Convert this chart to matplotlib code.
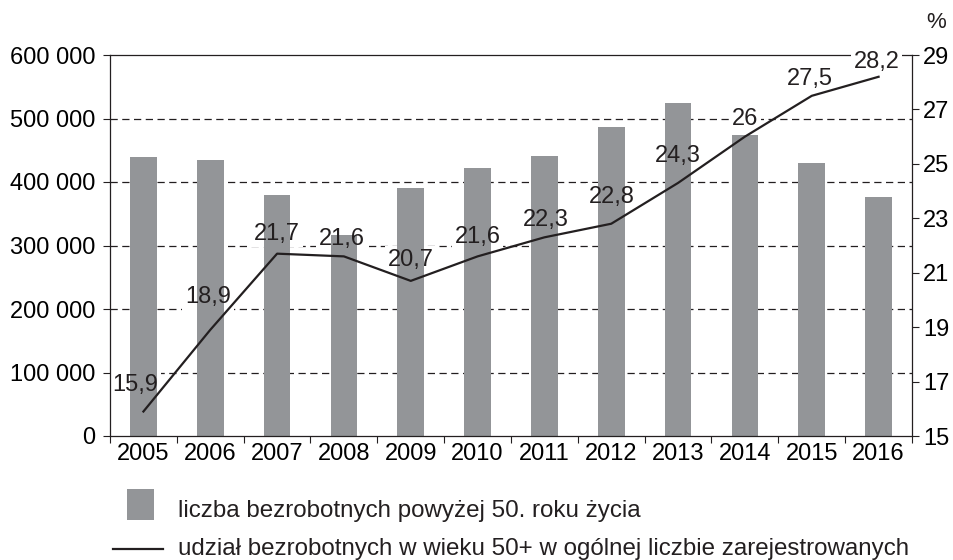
import numpy as np
import matplotlib
matplotlib.use('Agg')
from matplotlib import pyplot as plt
from matplotlib.patches import Rectangle
from matplotlib.lines import Line2D

years = ['2005', '2006', '2007', '2008', '2009', '2010', '2011', '2012', '2013', '2014', '2015', '2016']
unemployed_50 = [439000, 435000, 380000, 316000, 391000, 422000, 441000, 487000, 524000, 474000, 430000, 376000]
share_50 = [15.9, 18.9, 21.7, 21.6, 20.7, 21.6, 22.3, 22.8, 24.3, 26.0, 27.5, 28.2]
share_labels = ['15,9', '18,9', '21,7', '21,6', '20,7', '21,6', '22,3', '22,8', '24,3', '26', '27,5', '28,2']
legend_bar = 'liczba bezrobotnych powyżej 50. roku życia'
legend_line = 'udział bezrobotnych w wieku 50+ w ogólnej liczbie zarejestrowanych'

# label offsets (pixels) from each point
lab_dx = [-8, -2, 0, -2, 0, 0, 1, 1, 0, 0, -2, -2]
lab_dy = [27, 33, 20, 17, 21, 19, 17, 27, 27, 18, 17, 15]

ink = '#231f20'
bar_col = '#939598'
W, H = 954, 560

plt.rcParams['font.family'] = ['Liberation Sans', 'DejaVu Sans']
plt.rcParams['text.color'] = ink

fig = plt.figure(figsize=(W / 100, H / 100), dpi=100)
ax = fig.add_axes([110 / W, 1 - 436 / H, (912 - 110) / W, (436 - 55) / H])
ax2 = ax.twinx()

x = np.arange(len(years))
ax.bar(x, unemployed_50, width=0.4, color=bar_col, zorder=2)

ax.set_xlim(-0.5, len(years) - 0.5)
ax.set_ylim(0, 600000)
ax2.set_ylim(15, 29)

# line lives in ax so its z-order mixes with the bars, scaled by ax2
ax.plot(x, share_50, color=ink, lw=1.6, transform=ax2.transData, zorder=3, clip_on=False)
for i, (v, s) in enumerate(zip(share_50, share_labels)):
    for white in (True, False):
        kw = dict(xy=(x[i], v), xycoords=ax2.transData, xytext=(lab_dx[i], lab_dy[i]),
                  textcoords='offset pixels', ha='center', va='center', fontsize=17)
        if white:
            ax.annotate(s, color='white', zorder=1,
                        bbox=dict(boxstyle='square,pad=0.12', fc='white', ec='none'), **kw)
        else:
            ax.annotate(s, color=ink, zorder=4, **kw)

# left axis
yt = np.arange(0, 600001, 100000)
ax.set_yticks(yt, labels=[f'{v:,}'.replace(',', ' ') for v in yt])
ax.set_axisbelow(True)
ax.yaxis.grid(True, linestyle=(0, (5.8, 3.6)), color=ink, lw=0.9)
gl = ax.get_ygridlines()
gl[0].set_visible(False)
gl[-1].set_visible(False)
ax.tick_params(axis='y', direction='out', length=5, width=0.8, color=ink, pad=5.5, labelsize=17)

# x axis: ticks between the years
ax.set_xticks(np.arange(-0.5, len(years), 1))
ax.set_xticklabels([])
ax.set_xticks(x, labels=years, minor=True)
ax.tick_params(axis='x', which='major', direction='out', length=5, width=0.8, color=ink)
ax.tick_params(axis='x', which='minor', length=0, pad=5, labelsize=17)

for side in ['left', 'top', 'bottom']:
    ax.spines[side].set_color(ink)
    ax.spines[side].set_linewidth(0.9)
ax.spines['right'].set_visible(False)
ax.spines['top'].set_zorder(0.6)

# right axis
ax2.set_yticks(np.arange(15, 30, 2))
ax2.tick_params(axis='y', direction='out', length=5, width=0.8, color=ink, pad=3, labelsize=17)
for side in ['left', 'top', 'bottom']:
    ax2.spines[side].set_visible(False)
ax2.spines['right'].set_color(ink)
ax2.spines['right'].set_linewidth(0.9)

fig.text(936 / W, 1 - 22 / H, '%', ha='center', va='center', fontsize=16)

# legend drawn by hand below the plot
fig.add_artist(Rectangle((127 / W, 1 - 520 / H), 27 / W, 31 / H, transform=fig.transFigure,
                         facecolor=bar_col, edgecolor='none'))
fig.add_artist(Line2D([113 / W, 163 / W], [1 - 549 / H, 1 - 549 / H], transform=fig.transFigure,
                      color=ink, lw=1.6))
fig.text(178 / W, 1 - 511 / H, legend_bar, ha='left', va='center', fontsize=17.4)
fig.text(178 / W, 1 - 549 / H, legend_line, ha='left', va='center', fontsize=17.4)

fig.savefig('out.png', dpi=100)
